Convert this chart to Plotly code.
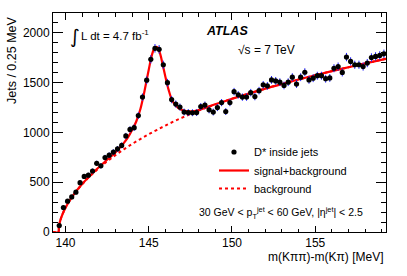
import plotly.graph_objects as go

# ---------------- data ----------------
bin_centers = [
    139.625, 139.875, 140.125, 140.375, 140.625, 140.875, 141.125, 141.375, 141.625, 141.875,
    142.125, 142.375, 142.625, 142.875, 143.125, 143.375, 143.625, 143.875, 144.125, 144.375,
    144.625, 144.875, 145.125, 145.375, 145.625, 145.875, 146.125, 146.375, 146.625, 146.875,
    147.125, 147.375, 147.625, 147.875, 148.125, 148.375, 148.625, 148.875, 149.125, 149.375,
    149.625, 149.875, 150.125, 150.375, 150.625, 150.875, 151.125, 151.375, 151.625, 151.875,
    152.125, 152.375, 152.625, 152.875, 153.125, 153.375, 153.625, 153.875, 154.125, 154.375,
    154.625, 154.875, 155.125, 155.375, 155.625, 155.875, 156.125, 156.375, 156.625, 156.875,
    157.125, 157.375, 157.625, 157.875, 158.125, 158.375, 158.625, 158.875, 159.125,
]
jets_counts = [
    65, 245, 310, 352, 400, 496, 558, 571, 613, 690,
    665, 748, 772, 803, 835, 870, 965, 1030, 1048, 1170,
    1355, 1525, 1735, 1845, 1835, 1680, 1500, 1330, 1285, 1255,
    1205, 1200, 1198, 1200, 1260, 1275, 1227, 1205, 1250, 1300,
    1210, 1300, 1410, 1378, 1355, 1355, 1400, 1360, 1420, 1478,
    1468, 1528, 1518, 1505, 1472, 1505, 1555, 1486, 1555, 1605,
    1528, 1545, 1570, 1570, 1540, 1548, 1645, 1662, 1603, 1757,
    1714, 1680, 1680, 1662, 1697, 1753, 1764, 1774, 1790,
]

# background-only fit curve
bkg_x = [139.25, 139.57, 139.6, 139.65, 139.75, 139.9, 140.1, 140.35, 140.6, 141.0,
         141.5, 142.0, 142.5, 143.0, 143.5, 144.0, 144.5, 145.0, 145.5, 146.0,
         146.5, 147.0, 147.5, 148.0, 148.5, 149.0, 150.0, 151.0, 152.0, 153.0,
         154.0, 155.0, 156.0, 157.0, 158.0, 159.25]
bkg_y = [0, 0, 53, 93, 148, 209, 274, 340, 398, 479,
         565, 641, 710, 772, 830, 884, 934, 982, 1027, 1069,
         1110, 1148, 1185, 1220, 1252, 1282, 1338, 1390, 1440, 1487,
         1532, 1575, 1616, 1655, 1694, 1740]

# signal + background fit curve
fit_x = [139.25, 139.57, 139.6, 139.65, 139.75, 139.9, 140.1, 140.35, 140.6, 141.0,
         141.5, 142.0, 142.5, 143.0, 143.5, 143.75, 144.0, 144.25, 144.5, 144.75,
         145.0, 145.2, 145.35, 145.45, 145.55, 145.7, 145.85, 146.0, 146.2, 146.4,
         146.6, 146.8, 147.0, 147.25, 147.5, 147.75, 148.0, 148.5, 149.0, 150.0,
         151.0, 152.0, 153.0, 154.0, 155.0, 156.0, 157.0, 158.0, 159.25]
fit_y = [0, 0, 53, 93, 148, 209, 274, 341, 400, 482,
         570, 650, 726, 800, 893, 950, 1025, 1110, 1235, 1420,
         1630, 1785, 1848, 1860, 1850, 1782, 1672, 1560, 1425, 1325,
         1272, 1243, 1226, 1215, 1212, 1215, 1225, 1254, 1283, 1338,
         1390, 1440, 1487, 1532, 1575, 1616, 1655, 1694, 1740]

x_tick_vals = [140, 145, 150, 155]
y_tick_vals = [0, 500, 1000, 1500, 2000]

FONT = "Liberation Sans, Arial, Helvetica, sans-serif"

# ---------------- layout geometry ----------------
W, H = 407, 276
ML, MR, MT, MB = 53, 21, 13, 44
PW, PH = W - ML - MR, H - MT - MB


def px(xp):
    return (xp - ML) / PW


def py(yp):
    return (H - MB - yp) / PH


fig = go.Figure()

fig.add_trace(go.Scatter(
    x=bkg_x, y=bkg_y, mode="lines", name="background",
    line=dict(color="#ff0000", width=2, dash="dot", shape="spline"),
    legend="legend3", hoverinfo="skip",
))
fig.add_trace(go.Scatter(
    x=fit_x, y=fit_y, mode="lines", name="signal+background",
    line=dict(color="#ff0000", width=2.2, shape="spline"),
    legend="legend2", hoverinfo="skip",
))
fig.add_trace(go.Scatter(
    x=bin_centers, y=jets_counts, mode="markers", name="D* inside jets",
    marker=dict(color="black", size=5.2),
    error_y=dict(type="sqrt", color="#1f1fff", thickness=1, width=0),
    legend="legend",
))

leg_common = dict(
    font=dict(family=FONT, size=11, color="black"),
    bgcolor="rgba(0,0,0,0)", borderwidth=0,
    xanchor="left", yanchor="middle", xref="paper", yref="paper",
)

fig.update_layout(
    width=W, height=H,
    margin=dict(l=ML, r=MR, t=MT, b=MB, pad=0),
    paper_bgcolor="white", plot_bgcolor="white",
    font=dict(family=FONT, size=12, color="black"),
    showlegend=True,
    legend=dict(x=px(214), y=py(152), **leg_common),
    legend2=dict(x=px(214), y=py(170.5), **leg_common),
    legend3=dict(x=px(214), y=py(188.5), **leg_common),
    xaxis=dict(
        range=[139.25, 159.25], tickvals=x_tick_vals,
        ticks="inside", ticklen=6.5, tickwidth=1, tickcolor="black",
        minor=dict(dtick=1, ticks="inside", ticklen=3.5, tickwidth=1, tickcolor="black"),
        showline=True, linecolor="black", linewidth=1, mirror="ticks",
        showgrid=False, zeroline=False,
        tickfont=dict(family=FONT, size=12),
    ),
    yaxis=dict(
        range=[0, 2200], tickvals=y_tick_vals,
        ticks="inside", ticklen=10, tickwidth=1, tickcolor="black",
        minor=dict(dtick=100, ticks="inside", ticklen=5, tickwidth=1, tickcolor="black"),
        showline=True, linecolor="black", linewidth=1, mirror="ticks",
        showgrid=False, zeroline=False,
        tickfont=dict(family=FONT, size=12),
    ),
)

annotations = [
    dict(text="Jets / 0.25 MeV", x=px(12), y=py(14), xanchor="center", yanchor="top",
         textangle=-90, font=dict(size=12.5)),
    dict(text="m(Kππ)-m(Kπ) [MeV]", x=1, y=py(257), xanchor="right", yanchor="middle",
         font=dict(size=12)),
    dict(text="∫", x=px(68), y=py(36), xanchor="left", yanchor="middle",
         font=dict(family="DejaVu Sans", size=19)),
    dict(text="L dt = 4.7 fb<sup>-1</sup>", x=px(79), y=py(35.5), xanchor="left", yanchor="middle",
         font=dict(size=11.5)),
    dict(text="<b><i>ATLAS</i></b>", x=px(204), y=py(30.5), xanchor="left", yanchor="middle",
         font=dict(size=12.5)),
    dict(text="√s = 7 TeV", x=px(236), y=py(50), xanchor="left", yanchor="middle",
         font=dict(size=12)),
    dict(text="30 GeV &lt; p<sub>T</sub><sup>jet</sup> &lt; 60 GeV, |η<sup>jet</sup>| &lt; 2.5",
         x=px(197), y=py(213), xanchor="left", yanchor="middle", font=dict(size=10.5)),
]
for a in annotations:
    a.setdefault("xref", "paper")
    a.setdefault("yref", "paper")
    a["showarrow"] = False
fig.update_layout(annotations=annotations)

fig.write_html("out.html", config={"displayModeBar": False},
               post_script="document.body.style.margin='0';")
